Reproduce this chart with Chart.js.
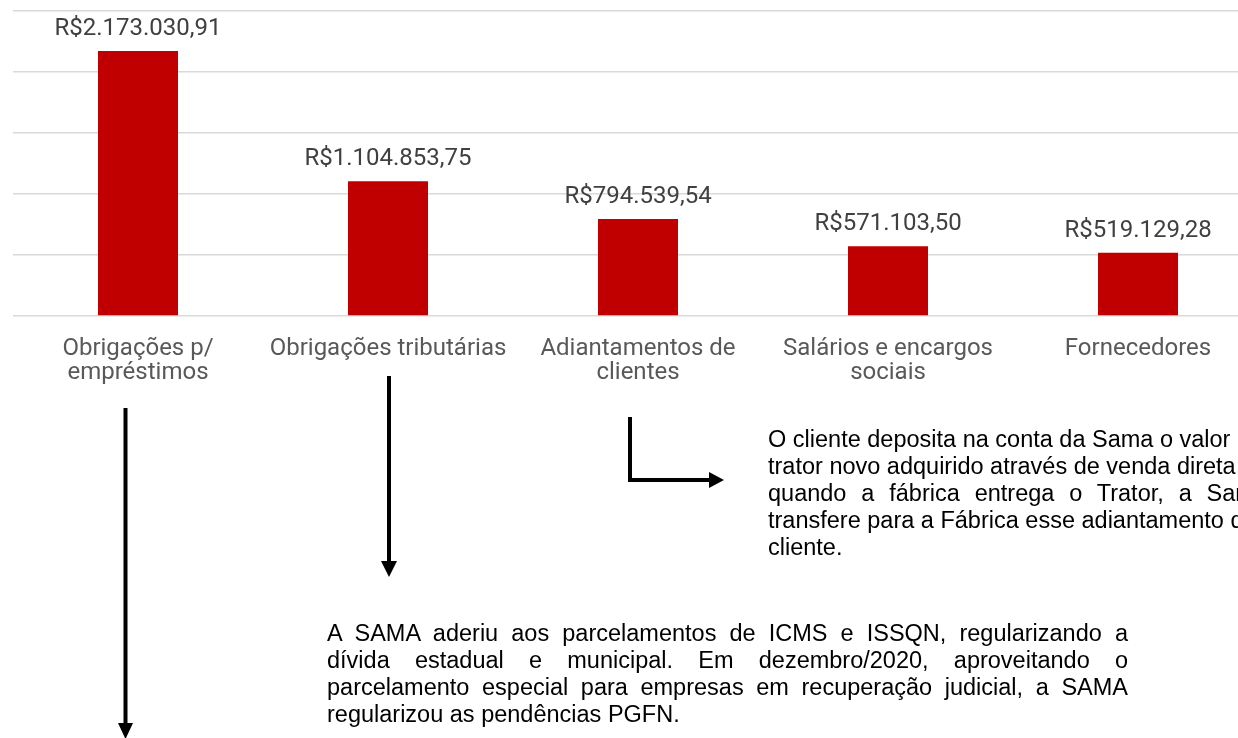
<!DOCTYPE html>
<html>
<head>
<meta charset="utf-8">
<script src="https://cdn.jsdelivr.net/npm/chart.js@4"></script>
<style>
  html, body { margin: 0; padding: 0; background: #fff; }
  body { width: 1238px; height: 738px; position: relative; overflow: hidden; }
  #chartBox { position: absolute; left: 0; top: 0; width: 1263px; height: 400px; }
  .note { position: absolute; font-family: "Liberation Sans", Arial, sans-serif;
          font-size: 23.5px; color: #000; line-height: 27px; }
  .note div { text-align: justify; text-align-last: justify; white-space: nowrap; }
  .note div.last { text-align-last: left; }
  #note1 { left: 768px; top: 426px; width: 500px; }
  #note2 { left: 327px; top: 620px; width: 801px; }
  #arrows { position: absolute; left: 0; top: 0; }
</style>
</head>
<body>
<div id="chartBox"><canvas id="passivoChart"></canvas></div>

<svg id="arrows" width="1238" height="738">
  <line x1="125.5" y1="408" x2="125.5" y2="724" stroke="#000" stroke-width="4"/>
  <polygon points="118,723 133,723 125.5,739" fill="#000"/>
  <line x1="389" y1="376" x2="389" y2="562" stroke="#000" stroke-width="4"/>
  <polygon points="381,561 397,561 389,577" fill="#000"/>
  <polyline points="630,417 630,480 710,480" fill="none" stroke="#000" stroke-width="4"/>
  <polygon points="709,472 709,488 724,480" fill="#000"/>
</svg>

<div class="note" id="note1">
  <div class="last">O cliente deposita na conta da Sama o valor do</div>
  <div class="last">trator novo adquirido através de venda direta,</div>
  <div>quando a fábrica entrega o Trator, a Sama</div>
  <div class="last">transfere para a Fábrica esse adiantamento do</div>
  <div class="last">cliente.</div>
</div>

<div class="note" id="note2">
  <div>A SAMA aderiu aos parcelamentos de ICMS e ISSQN, regularizando a</div>
  <div>dívida estadual e municipal. Em dezembro/2020, aproveitando o</div>
  <div>parcelamento especial para empresas em recuperação judicial, a SAMA</div>
  <div class="last">regularizou as pendências PGFN.</div>
</div>

<script>
const categorias = [
    ['Obrigações p/', 'empréstimos'],
    'Obrigações tributárias',
    ['Adiantamentos de', 'clientes'],
    ['Salários e encargos', 'sociais'],
    'Fornecedores'
];
const valores = [2173030.91, 1104853.75, 794539.54, 571103.50, 519129.28];
const eixoMax = 2500000;
const eixoPasso = 500000;

function formatarReal(v) {
    const partes = v.toFixed(2).split('.');
    const inteiro = partes[0].replace(/\B(?=(\d{3})+(?!\d))/g, '.');
    return 'R$' + inteiro + ',' + partes[1];
}

// rótulos de valor acima das barras
const rotulosValores = {
    id: 'rotulosValores',
    afterDatasetsDraw(chart) {
        const ctx = chart.ctx;
        const meta = chart.getDatasetMeta(0);
        ctx.save();
        ctx.font = '24px Roboto';
        ctx.fillStyle = '#404040';
        ctx.textAlign = 'center';
        ctx.textBaseline = 'alphabetic';
        meta.data.forEach(function(bar, i) {
            ctx.fillText(formatarReal(valores[i]), bar.x, bar.y - 16);
        });
        ctx.restore();
    }
};

document.addEventListener('DOMContentLoaded', function() {
    const ctx = document.getElementById('passivoChart').getContext('2d');

    new Chart(ctx, {
        type: 'bar',
        data: {
            labels: categorias,
            datasets: [{
                data: valores,
                backgroundColor: '#C00000',
                borderWidth: 0,
                barPercentage: 0.32,
                categoryPercentage: 1
            }]
        },
        options: {
            responsive: true,
            maintainAspectRatio: false,
            animation: false,
            layout: { padding: { left: 13, top: 11, right: 0, bottom: 14 } },
            plugins: {
                legend: { display: false },
                tooltip: { enabled: false }
            },
            scales: {
                x: {
                    grid: { display: false },
                    border: { display: false },
                    afterFit: function(axis) { axis.height = 70; },
                    ticks: {
                        color: '#595959',
                        font: { family: 'Roboto', size: 24, lineHeight: 1 },
                        padding: 13,
                        maxRotation: 0,
                        autoSkip: false
                    }
                },
                y: {
                    min: 0,
                    max: eixoMax,
                    ticks: { display: false, stepSize: eixoPasso },
                    border: { display: false },
                    grid: { color: '#d9d9d9', lineWidth: 1.5, drawTicks: false }
                }
            }
        },
        plugins: [rotulosValores]
    });
});
</script>
</body>
</html>
